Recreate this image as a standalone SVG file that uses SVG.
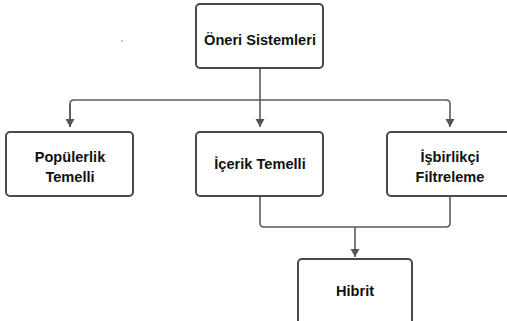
<svg xmlns="http://www.w3.org/2000/svg" width="507" height="321" viewBox="0 0 507 321">
<defs>
<marker id="arr" markerWidth="10" markerHeight="10" refX="8" refY="5" orient="auto" markerUnits="userSpaceOnUse">
<path d="M0,0.5 L8,5 L0,9.5 Z" fill="#555"/>
</marker>
<style>
.box{fill:#fff;stroke:#4a4a4a;stroke-width:2}
.lbl{font-family:"Liberation Sans",Arial,sans-serif;font-weight:bold;font-size:14.6px;fill:#111;text-anchor:middle}
.con{fill:none;stroke:#5a5a5a;stroke-width:1.6}
</style>
</defs>
<rect width="507" height="321" fill="#fff"/>
<circle cx="122" cy="41" r="0.7" fill="#666"/>
<g id="connectors">
<path class="con" d="M260,69 V127" marker-end="url(#arr)"/>
<path class="con" d="M70,127 V104 Q70,100 74,100 H446 Q450,100 450,104 V127" marker-end="url(#arr)"/>
<path class="con" d="M70,104 V127" marker-end="url(#arr)"/>
<path class="con" d="M260,197 V223 Q260,227 264,227 H446 Q450,227 450,223 V197"/>
<path class="con" d="M355,227 V257" marker-end="url(#arr)"/>
</g>
<g id="oneri">
<rect class="box" x="196" y="4" width="127" height="64" rx="4"/>
<text class="lbl" x="260" y="45">Öneri Sistemleri</text>
</g>
<g id="populerlik">
<rect class="box" x="6" y="132" width="127" height="64" rx="4"/>
<text class="lbl" x="70" y="162">Popülerlik</text>
<text class="lbl" x="70" y="182">Temelli</text>
</g>
<g id="icerik">
<rect class="box" x="196" y="132" width="127" height="64" rx="4"/>
<text class="lbl" x="260" y="169">İçerik Temelli</text>
</g>
<g id="isbirlikci">
<rect class="box" x="387" y="132" width="127" height="64" rx="4"/>
<text class="lbl" x="450" y="162">İşbirlikçi</text>
<text class="lbl" x="450" y="182">Filtreleme</text>
</g>
<g id="hibrit">
<rect class="box" x="298" y="259" width="114" height="70" rx="4"/>
<text class="lbl" x="355" y="296">Hibrit</text>
</g>
</svg>
